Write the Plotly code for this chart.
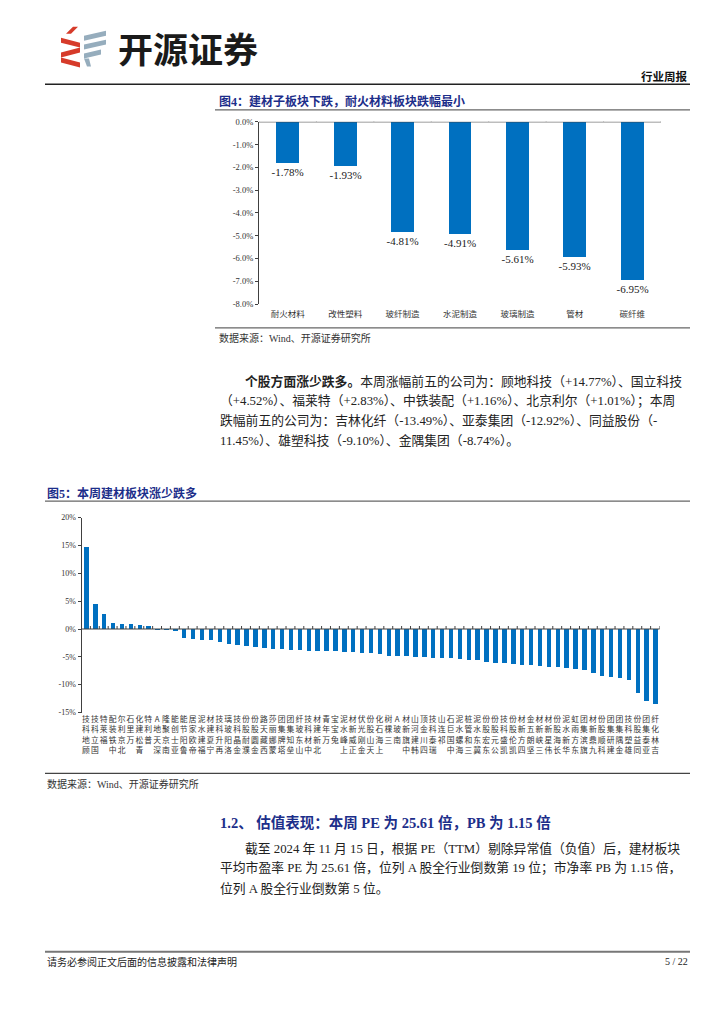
import plotly.graph_objects as go

W, H = 724, 1024
def px(x): return x / W
def py(y): return 1 - y / H

# ---------------- data ----------------
sector_names = ["耐火材料", "改性塑料", "玻纤制造", "水泥制造", "玻璃制造", "管材", "碳纤维"]
sector_changes = [-1.78, -1.93, -4.81, -4.91, -5.61, -5.93, -6.95]
sector_ticks = [0, -1, -2, -3, -4, -5, -6, -7, -8]

stock_names = [
    "顾地科技", "国立科技", "福莱特", "中铁装配", "北京利尔", "万里石", "青松建化", "普利特",
    "深天地A", "南京聚隆", "亚士创能", "鲁阳节能", "帝欧家居", "福建水泥", "宁夏建材", "再升科技",
    "洛阳玻璃", "金晶科技", "濮耐股份", "金圆股份", "西藏天路", "蒙娜丽莎", "塔牌集团", "垒知集团",
    "山东玻纤", "中材科技", "北新建材", "万年青", "兔宝宝", "上峰水泥", "正威新材", "金刚光伏",
    "天山股份", "上海石化", "三棵树", "南玻A", "中旗新材", "韩建河山", "四川金顶", "瑞泰科技",
    "祁连山", "中国巨石", "海螺水泥", "三和管桩", "冀东水泥", "东宏股份", "公元股份", "凯盛科技",
    "凯伦股份", "四方新材", "坚朗五金", "三峡新材", "伟星新材", "长海股份", "华新水泥", "东方雨虹",
    "旗滨集团", "九鼎新材", "科顺股份", "建研集团", "金隅集团", "雄塑科技", "同益股份", "亚泰集团",
    "吉林化纤",
]
stock_changes = [
    14.77, 4.52, 2.83, 1.16, 1.01, 0.90, 0.75, 0.55,
    0.02, -0.05, -0.30, -1.50, -1.75, -1.85, -1.90, -2.20,
    -2.60, -2.75, -3.05, -3.15, -3.30, -3.55, -3.60, -3.65,
    -3.75, -3.85, -3.95, -3.95, -3.97, -4.10, -4.15, -4.25,
    -4.30, -4.50, -4.80, -4.80, -4.85, -4.90, -4.95, -5.10,
    -5.15, -5.15, -5.40, -5.45, -5.55, -5.80, -6.00, -6.05,
    -6.15, -6.35, -6.45, -6.55, -6.70, -6.75, -7.00, -7.10,
    -7.35, -7.75, -8.45, -8.60, -8.74, -9.10, -11.45, -12.92,
    -13.49,
]
stock_ticks = [20, 15, 10, 5, 0, -5, -10, -15]

# ---------------- style ----------------
BLUE = "#0070C0"
NAVY = "#1C2E8A"
AX = "#404040"
SERIF = "Liberation Serif, Noto Sans CJK SC"
SANS = "Noto Sans CJK SC"

fig = go.Figure()

# Figure 4 bars
fig.add_trace(go.Bar(
    x=list(range(len(sector_names))), y=sector_changes, xaxis="x", yaxis="y",
    marker=dict(color=BLUE, line=dict(width=0)), width=0.4,
    text=[f"{v:.2f}%" for v in sector_changes], textposition="outside",
    constraintext="none",
    textfont=dict(family=SERIF, size=11, color="#1a1a1a"), cliponaxis=False,
    hoverinfo="skip",
))

# Figure 5 bars
fig.add_trace(go.Bar(
    x=list(range(len(stock_names))), y=stock_changes, xaxis="x2", yaxis="y2",
    marker=dict(color=BLUE, line=dict(width=0)), width=0.5, hoverinfo="skip",
))

fig.update_layout(
    width=W, height=H, margin=dict(l=0, r=0, t=0, b=0),
    paper_bgcolor="white", plot_bgcolor="white", showlegend=False, bargap=0,
    xaxis=dict(
        domain=[px(259), px(661)], anchor="y", range=[-0.5, len(sector_names) - 0.5],
        tickvals=list(range(len(sector_names))), ticktext=sector_names,
        showline=False, ticks="", showgrid=False, zeroline=False,
        tickfont=dict(family=SERIF, size=8.5, color="#333"), ticklabelstandoff=3,
    ),
    yaxis=dict(
        domain=[py(302), py(118)], anchor="x", range=[min(sector_ticks), max(sector_ticks)],
        tickvals=sector_ticks, ticktext=[f"{v:.1f}%" for v in sector_ticks],
        showline=True, linecolor=AX, linewidth=1, ticks="outside", ticklen=3, tickcolor=AX,
        showgrid=False, zeroline=False,
        tickfont=dict(family=SERIF, size=8.5, color="#333"),
    ),
    xaxis2=dict(
        domain=[px(81.5), px(659.5)], anchor="y2", range=[-0.5, len(stock_names) - 0.5],
        tickvals=list(range(len(stock_names))),
        ticktext=["<br>".join(reversed(n)) for n in stock_names],
        tickangle=0, showline=False, ticks="", showgrid=False, zeroline=False,
        tickfont=dict(family=SANS, size=7.8, color="#333"), ticklabelstandoff=1,
    ),
    yaxis2=dict(
        domain=[py(714.5), py(517.7)], anchor="x2", range=[min(stock_ticks), max(stock_ticks)],
        tickvals=stock_ticks, ticktext=[f"{v}%" for v in stock_ticks],
        showline=True, linecolor=AX, linewidth=1, ticks="outside", ticklen=3, tickcolor=AX,
        showgrid=False, zeroline=False,
        tickfont=dict(family=SERIF, size=8, color="#333"),
    ),
)

shapes = []
def hline(y, x0, x1, color="#333", width=1.2):
    shapes.append(dict(type="line", xref="paper", yref="paper", x0=px(x0), x1=px(x1),
                       y0=py(y), y1=py(y), line=dict(color=color, width=width)))

hline(80, 45, 690, "#222", 1.5)
hline(106, 215, 690, "#666", 1.3)
hline(326, 215, 690, "#666", 1.3)
hline(501, 45, 690, "#666", 1.3)
hline(776, 45, 690, "#444", 1.3)
hline(956, 45, 690, "#777", 2)

# zero lines and category boundary ticks
for xr, yr, n in (("x", "y", len(sector_names)), ("x2", "y2", len(stock_names))):
    shapes.append(dict(type="line", xref=f"{xr} domain", yref=yr, x0=0, x1=1, y0=0, y1=0,
                       line=dict(color=AX, width=1)))
    for i in range(n + 1):
        shapes.append(dict(type="line", xref=xr, yref=yr, x0=i - 0.5, x1=i - 0.5,
                           ysizemode="pixel", yanchor=0, y0=0, y1=3,
                           line=dict(color=AX, width=1)))

# logo
def poly(pts, color):
    d = "M " + " L ".join(f"{px(a):.5f},{py(b):.5f}" for a, b in pts) + " Z"
    shapes.append(dict(type="path", xref="paper", yref="paper", path=d,
                       fillcolor=color, line=dict(width=0)))

RED = "#D63B2A"
GREY = "#96ADBD"
poly([(73, 22), (78, 22), (71, 29), (66, 29)], RED)
poly([(61, 33), (80, 38), (80, 43), (61, 38)], RED)
poly([(80, 43), (80, 48), (61, 53), (61, 48)], RED)
poly([(61, 53), (80, 58), (80, 63), (61, 58)], RED)
poly([(84, 31), (106, 26), (106, 31), (84, 36)], GREY)
poly([(84, 40), (106, 35), (106, 40), (84, 45)], GREY)
poly([(84, 49), (101, 45), (101, 50), (84, 54)], GREY)
poly([(84, 54), (89, 54), (91, 62), (87, 62)], GREY)

fig.update_layout(shapes=shapes)

ann = []
def txt(x, y, s, size=12, color="#222", anchor="left", family=SERIF):
    ann.append(dict(x=px(x), y=py(y), xref="paper", yref="paper", text=s, showarrow=False,
                    xanchor=anchor, yanchor="middle",
                    font=dict(family=family, size=size, color=color)))

txt(116, 43, "<b>开源证券</b>", 35, "#1a1a1a", family=SANS)
txt(690, 72, "<b>行业周报</b>", 11.5, "#111", "right")
txt(217, 97, "<b>图4：建材子板块下跌，耐火材料板块跌幅最小</b>", 12, NAVY)
txt(217, 336, "数据来源：Wind、开源证券研究所", 10, "#333")

para1 = [
    (243, 380.5, "<b>个股方面涨少跌多。</b>本周涨幅前五的公司为：顾地科技（+14.77%）、国立科技"),
    (218, 400.5, "（+4.52%）、福莱特（+2.83%）、中铁装配（+1.16%）、北京利尔（+1.01%）；本周"),
    (218, 420, "跌幅前五的公司为：吉林化纤（-13.49%）、亚泰集团（-12.92%）、同益股份（-"),
    (218, 439.5, "11.45%）、雄塑科技（-9.10%）、金隅集团（-8.74%）。"),
]
for x, y, s in para1:
    txt(x, y, s, 12.8, "#222")

txt(45, 493, "<b>图5：本周建材板块涨少跌多</b>", 12, NAVY)
txt(45, 787, "数据来源：Wind、开源证券研究所", 10, "#333")

txt(218, 826, "<b>1.2、 估值表现：本周 PE 为 25.61 倍，PB 为 1.15 倍</b>", 14.5, NAVY)
para2 = [
    (243, 852, "截至 2024 年 11 月 15 日，根据 PE（TTM）剔除异常值（负值）后，建材板块"),
    (218, 872, "平均市盈率 PE 为 25.61 倍，位列 A 股全行业倒数第 19 位；市净率 PB 为 1.15 倍，"),
    (218, 892, "位列 A 股全行业倒数第 5 位。"),
]
for x, y, s in para2:
    txt(x, y, s, 12.8, "#222")

txt(45, 966, "请务必参阅正文后面的信息披露和法律声明", 10, "#222")
txt(690, 966, "5 / 22", 10, "#222", "right")

fig.update_layout(annotations=ann)

fig.write_html("out.html", config={"displayModeBar": False},
               post_script="document.body.style.margin='0';document.body.style.overflow='hidden';")
